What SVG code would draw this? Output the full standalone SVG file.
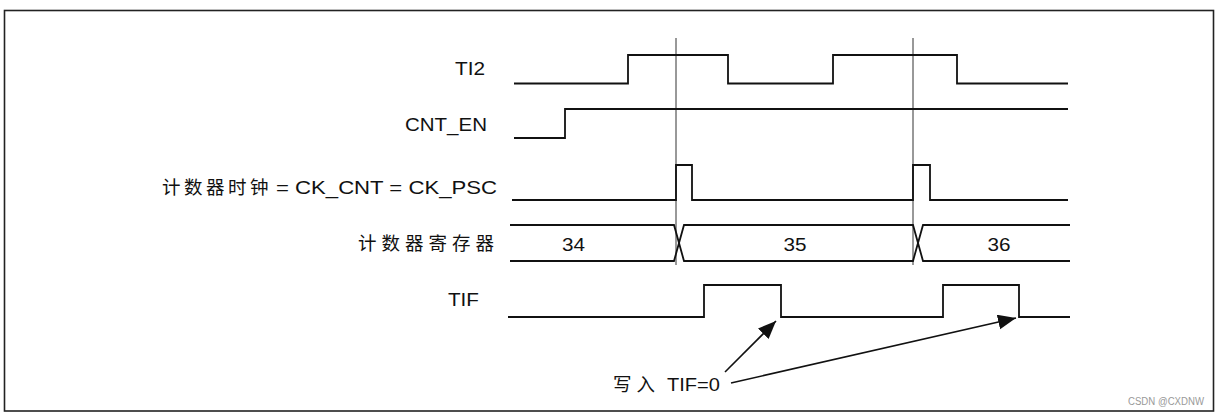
<svg xmlns="http://www.w3.org/2000/svg" width="1220" height="420" viewBox="0 0 1220 420">
<style>
.t{font-family:"Liberation Sans","Noto Sans CJK SC",sans-serif;font-size:18.5px;fill:#111}
.sig{fill:none;stroke:#111;stroke-width:1.8;stroke-linejoin:miter}
.mk{stroke:#333;stroke-width:1}
.arr{stroke:#111;stroke-width:1.6;fill:none;marker-end:url(#ah)}
</style>
<defs>
<marker id="ah" markerUnits="userSpaceOnUse" markerWidth="19" markerHeight="16" refX="18" refY="7.5" orient="auto">
<path d="M0,0 L18,7.5 L0,15 z" fill="#111"/>
</marker>
</defs>
<rect x="4.5" y="10.5" width="1209" height="400.5" fill="#fff" stroke="#222" stroke-width="1.6"/>
<g id="markers">
<line class="mk" x1="676" y1="38" x2="676" y2="265"/>
<line class="mk" x1="913" y1="38" x2="913" y2="265"/>
</g>
<g id="ti2">
<text class="t" x="455" y="75" textLength="30" lengthAdjust="spacingAndGlyphs">TI2</text>
<path class="sig" d="M514,83.5 H628 V55 H728 V83.5 H833 V55 H957 V83.5 H1068"/>
</g>
<g id="cnt_en">
<text class="t" x="405" y="131" textLength="82" lengthAdjust="spacingAndGlyphs">CNT_EN</text>
<path class="sig" d="M514,138 H565 V109 H1068"/>
</g>
<g id="clock">
<text class="t" x="162" y="194" letter-spacing="3.5">计数器时钟</text>
<text class="t" x="276" y="194" textLength="221" lengthAdjust="spacingAndGlyphs">= CK_CNT = CK_PSC</text>
<path class="sig" d="M512,200 H676 V165 H692 V200 H913 V165 H930 V200 H1068"/>
</g>
<g id="register">
<text class="t" x="358" y="250" letter-spacing="5">计数器寄存器</text>
<path class="sig" d="M510,225 H674 L684,261 H913 L923,225 H1070"/>
<path class="sig" d="M510,261 H674 L684,225 H913 L923,261 H1070"/>
<text class="t" x="562" y="251" textLength="23" lengthAdjust="spacingAndGlyphs">34</text>
<text class="t" x="783.5" y="251" textLength="23" lengthAdjust="spacingAndGlyphs">35</text>
<text class="t" x="987.5" y="251" textLength="23" lengthAdjust="spacingAndGlyphs">36</text>
</g>
<g id="tif">
<text class="t" x="448" y="306" textLength="31" lengthAdjust="spacingAndGlyphs">TIF</text>
<path class="sig" d="M508,317 H704 V285 H781 V317 H943 V285 H1019 V317 H1070"/>
</g>
<g id="note">
<text class="t" x="613" y="391" letter-spacing="5">写入</text>
<text class="t" x="667" y="391" textLength="53" lengthAdjust="spacingAndGlyphs">TIF=0</text>
</g>
<g id="connectors">
<line class="arr" x1="725" y1="372" x2="776" y2="321"/>
<line class="arr" x1="731" y1="383" x2="1016" y2="318"/>
</g>
<text x="1128" y="405" font-family="Liberation Sans, sans-serif" font-size="10" fill="#999" textLength="76" lengthAdjust="spacingAndGlyphs">CSDN @CXDNW</text>
</svg>
